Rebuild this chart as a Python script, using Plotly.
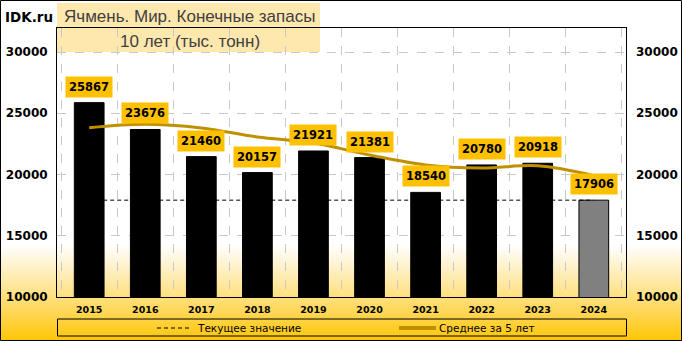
import plotly.graph_objects as go

years = ["2015", "2016", "2017", "2018", "2019", "2020", "2021", "2022", "2023", "2024"]
stocks = [25867, 23676, 21460, 20157, 21921, 21381, 18540, 20780, 20918, 17906]
avg5 = [23820, 24100, 23800, 23060, 22570, 21600, 20780, 20530, 20710, 19905]
current = stocks[-1]
y_range = [10000, 31960]
y_ticks = [10000, 15000, 20000, 25000, 30000]
y_tick_text = [str(v) for v in y_ticks]

W, H = 682, 341
L, R, T, B = 57, 626, 28, 297
PW, PH = R - L, B - T


def px(x):
    return (x - L) / PW


def py(y):
    return (B - y) / PH


fig = go.Figure()

fig.add_trace(go.Scatter(x=years, y=[current] * len(years), mode="lines",
                         line=dict(color="black", width=1, dash="4px,3px"),
                         showlegend=False, hoverinfo="skip"))
bar_colors = ["black"] * (len(years) - 1) + ["#808080"]
fig.add_trace(go.Bar(x=years, y=stocks, marker=dict(color=bar_colors, line=dict(color="black", width=1)),
                     width=0.53, showlegend=False))
fig.add_trace(go.Scatter(x=years, y=avg5, mode="lines", line=dict(color="#BF9000", width=3, shape="spline", smoothing=1.0),
                         showlegend=False))
fig.add_trace(go.Scatter(x=years, y=stocks, yaxis="y2", mode="markers", marker=dict(opacity=0),
                         showlegend=False, hoverinfo="skip"))

shapes = []
y0 = 245
steps = 48
for i in range(steps):
    ya = y0 + i * (H - y0) / steps
    yb = y0 + (i + 1) * (H - y0) / steps + 0.5
    t = (i + 0.5) / steps
    g = int(255 - t * 57)
    b = int(255 * max(0.0, 1 - t) ** 0.9)
    shapes.append(dict(type="rect", xref="paper", yref="paper", x0=px(0), x1=px(W), y0=py(yb), y1=py(ya),
                       fillcolor=f"rgb(255,{g},{b})", line=dict(width=0), layer="below"))
shapes.append(dict(type="rect", xref="paper", yref="paper", x0=px(57), x1=px(320), y0=py(52), y1=py(3),
                   fillcolor="#FFE8AE", line=dict(width=0), layer="below"))
shapes.append(dict(type="rect", xref="paper", yref="paper", x0=px(57.5), x1=px(626.5), y0=py(336), y1=py(319),
                   line=dict(color="black", width=1), fillcolor="rgba(0,0,0,0)"))
shapes.append(dict(type="line", xref="paper", yref="paper", x0=px(157), x1=px(189), y0=py(328), y1=py(328),
                   line=dict(color="black", width=1, dash="4px,3px")))
shapes.append(dict(type="line", xref="paper", yref="paper", x0=px(399), x1=px(436), y0=py(328), y1=py(328),
                   line=dict(color="#BF9000", width=4)))
shapes.append(dict(type="rect", xref="paper", yref="paper", x0=px(0.5), x1=px(681.5), y0=py(340.5), y1=py(0.5),
                   line=dict(color="black", width=1), fillcolor="rgba(0,0,0,0)"))

annotations = []
for i, v in enumerate(stocks):
    annotations.append(dict(x=i, y=v, xref="x", yref="y", text=f"<b>{v}</b>", showarrow=False,
                            yanchor="bottom", yshift=5, bgcolor="#FFC000", borderpad=3,
                            font=dict(family="DejaVu Sans", size=11.5, color="black")))
annotations += [
    dict(x=px(3), y=py(17), xref="paper", yref="paper", xanchor="left", yanchor="middle", showarrow=False,
         text="<b>IDK.ru</b>", font=dict(family="DejaVu Sans", size=13.5, color="black")),
    dict(x=px(62), y=py(17), xref="paper", yref="paper", xanchor="left", yanchor="middle", showarrow=False,
         text="Ячмень. Мир. Конечные запасы", font=dict(family="Liberation Sans", size=17, color="#404040")),
    dict(x=px(190), y=py(41), xref="paper", yref="paper", xanchor="center", yanchor="middle", showarrow=False,
         text="10 лет (тыс. тонн)", font=dict(family="Liberation Sans", size=17, color="#404040")),
    dict(x=px(195), y=py(328), xref="paper", yref="paper", xanchor="left", yanchor="middle", showarrow=False,
         text="Текущее значение", font=dict(family="DejaVu Sans", size=10.5, color="black")),
    dict(x=px(437), y=py(328), xref="paper", yref="paper", xanchor="left", yanchor="middle", showarrow=False,
         text="Среднее за 5 лет", font=dict(family="DejaVu Sans", size=10.5, color="black")),
]

tick_font = dict(family="DejaVu Sans", size=12, color="black", weight="bold")
fig.update_layout(
    width=W, height=H, margin=dict(l=L, r=W - R, t=T, b=H - B, pad=0, autoexpand=False),
    paper_bgcolor="white", plot_bgcolor="rgba(0,0,0,0)",
    xaxis=dict(type="category", tickson="boundaries", showgrid=True, gridcolor="#C8C8C8", griddash="dash",
               gridwidth=1, showline=True, linecolor="black", linewidth=1, mirror=True, ticks="",
               tickfont=dict(family="DejaVu Sans", size=9.5, color="black", weight="bold"),
               ticklabelstandoff=4, tickangle=0, automargin=False),
    yaxis=dict(range=y_range, tickvals=y_ticks, ticktext=y_tick_text, showgrid=True, gridcolor="#C8C8C8",
               griddash="dash", gridwidth=1, showline=True, linecolor="black", linewidth=1, mirror=True,
               ticks="", tickfont=tick_font, ticklabelstandoff=6, zeroline=False, automargin=False),
    yaxis2=dict(range=y_range, tickvals=y_ticks, ticktext=y_tick_text, overlaying="y", side="right",
                showgrid=False, ticks="", tickfont=tick_font, ticklabelstandoff=9, zeroline=False,
                showline=False, automargin=False),
    shapes=shapes, annotations=annotations, showlegend=False,
)

fig.write_html("out.html")
